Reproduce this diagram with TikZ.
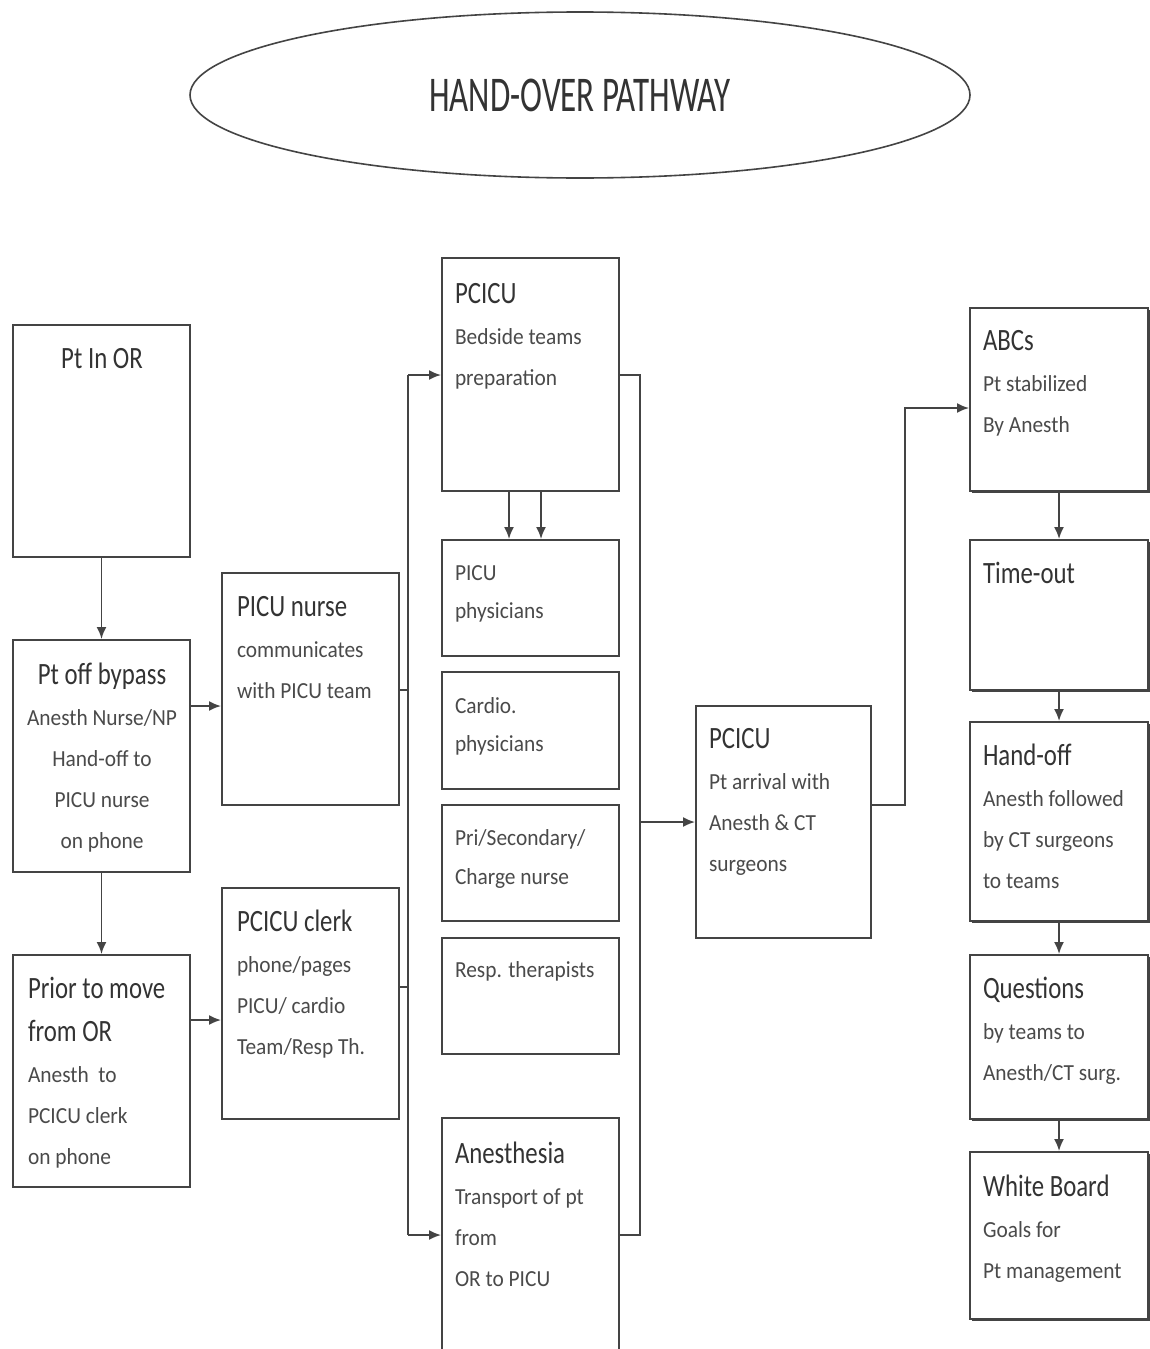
\documentclass[tikz,border=0pt]{standalone}
\usepackage{fontspec}
\setmainfont{Carlito}
\newfontfamily\bodyfont[FakeStretch=0.93]{Carlito}
\newfontfamily\headfont[FakeStretch=0.80]{Carlito}
\newfontfamily\titlefont[FakeStretch=0.66]{Carlito}
\usetikzlibrary{arrows.meta,shapes.geometric,shadows}

\definecolor{inkline}{HTML}{444444}
\definecolor{inktext}{HTML}{333333}
\definecolor{inkbody}{HTML}{4A4A4A}

% heading line inside a box
\newcommand\hd[1]{\leavevmode{\headfont\fontsize{31}{41}\selectfont\color{inktext}#1}}
% rectangle from its corners: [options]{name}{x1}{y1}{x2}{y2}
\newcommand\mkbox[6][]{%
  \node[box,#1,minimum width={(#5-#3)*1pt},minimum height={(#6-#4)*1pt}]
    (#2) at ({(#3+#5)/2},{(#4+#6)/2}) {};}

\tikzset{
  box/.style={draw=inkline,line width=2pt,fill=white,inner sep=0pt},
  shbox/.style={drop shadow={shadow xshift=2.2pt,shadow yshift=-2.2pt,fill=inkline,opacity=1}},
  txt/.style={inner sep=0pt,outer sep=0pt,text=inkbody,
    font=\bodyfont\fontsize{23}{41}\selectfont},
  conn/.style={draw=inkline,line width=1.8pt},
  arr/.style={conn,-{Latex[length=12pt,width=10pt]}},
}

\begin{document}
\begin{tikzpicture}[x=1pt,y=-1pt]
\useasboundingbox (0,0) rectangle (1150,1349);
\clip (0,0) rectangle (1150,1349);
\fill[white] (0,0) rectangle (1150,1349);

% title
\node[draw=inkline,line width=1.6pt,ellipse,minimum width=780pt,minimum height=166pt,
  inner sep=0pt,text=inktext,font=\titlefont\fontsize{50}{50}\selectfont]
  (title) at (580,95) {HAND-OVER PATHWAY};

% left column
\mkbox{orin}{13}{325}{190}{557}
\mkbox{offbp}{13}{640}{190}{872}
\mkbox{prior}{13}{955}{190}{1187}
% second column
\mkbox{nurse}{222}{573}{399}{805}
\mkbox{clerk}{222}{888}{399}{1119}
% team column
\mkbox{bed}{442}{258}{619}{491}
\mkbox{phys}{442}{540}{619}{656}
\mkbox{cardio}{442}{672}{619}{789}
\mkbox{chg}{442}{805}{619}{921}
\mkbox{resp}{442}{938}{619}{1054}
\mkbox{anes}{442}{1118}{619}{1370}
% arrival
\mkbox{arrv}{696}{706}{871}{938}
% right column
\mkbox[shbox]{abc}{970}{308}{1148}{491}
\mkbox[shbox]{tout}{970}{540}{1148}{690}
\mkbox[shbox]{hoff}{970}{722}{1148}{921}
\mkbox[shbox]{ques}{970}{955}{1148}{1119}
\mkbox[shbox]{wb}{970}{1152}{1148}{1319}

% box texts
\node[txt,anchor=base] (orin-t) at (102,368) {\hd{Pt In OR}};
\node[txt,anchor=base] (offbp-t) at (102,684)
  {\parbox[t]{170pt}{\centering\hd{Pt off bypass}\\Anesth Nurse/NP\\Hand-off to\\PICU nurse\\on phone}};
\node[txt,anchor=base west] (prior-t) at (28,998)
  {\parbox[t]{160pt}{\raggedright\hd{Prior to move}\\[2pt]\hd{from OR}\\Anesth\ \ to\\PCICU clerk\\on phone}};
\node[txt,anchor=base west] (nurse-t) at (237,616)
  {\parbox[t]{160pt}{\raggedright\hd{PICU nurse}\\communicates\\with PICU team}};
\node[txt,anchor=base west] (clerk-t) at (237,931)
  {\parbox[t]{160pt}{\raggedright\hd{PCICU clerk}\\phone/pages\\PICU/ cardio\\Team/Resp Th.}};
\node[txt,anchor=base west] (bed-t) at (455,303)
  {\parbox[t]{160pt}{\raggedright\hd{PCICU}\\Bedside teams\\preparation}};
\node[txt,anchor=base west] (phys-t) at (455,580)
  {\parbox[t]{160pt}{\raggedright PICU\\[-3pt]physicians}};
\node[txt,anchor=base west] (cardio-t) at (455,713)
  {\parbox[t]{160pt}{\raggedright Cardio.\\[-3pt]physicians}};
\node[txt,anchor=base west] (chg-t) at (455,845)
  {\parbox[t]{160pt}{\raggedright Pri/Secondary/\\[-2pt]Charge nurse}};
\node[txt,anchor=base west] (resp-t) at (455,977) {Resp. therapists};
\node[txt,anchor=base west] (anes-t) at (455,1163)
  {\parbox[t]{160pt}{\raggedright\hd{Anesthesia}\\Transport of pt\\from\\OR to PICU}};
\node[txt,anchor=base west] (arrv-t) at (709,748)
  {\parbox[t]{160pt}{\raggedright\hd{PCICU}\\Pt arrival with\\Anesth \& CT\\surgeons}};
\node[txt,anchor=base west] (abc-t) at (983,350)
  {\parbox[t]{160pt}{\raggedright\hd{ABCs}\\Pt stabilized\\By Anesth}};
\node[txt,anchor=base west] (tout-t) at (983,583) {\hd{Time-out}};
\node[txt,anchor=base west] (hoff-t) at (983,765)
  {\parbox[t]{160pt}{\raggedright\hd{Hand-off}\\Anesth followed\\by CT surgeons\\to teams}};
\node[txt,anchor=base west] (ques-t) at (983,998)
  {\parbox[t]{160pt}{\raggedright\hd{Questions}\\by teams to\\Anesth/CT surg.}};
\node[txt,anchor=base west] (wb-t) at (983,1196)
  {\parbox[t]{160pt}{\raggedright\hd{White Board}\\Goals for\\Pt management}};

% left column flow
\draw[arr] (orin) -- (offbp);
\draw[arr] (offbp) -- (prior);
\draw[arr] (offbp.east |- 0,706) -- (nurse.west |- 0,706);
\draw[arr] (prior.east |- 0,1020) -- (clerk.west |- 0,1020);

% collecting line into the team column
\coordinate (bl-top) at (408,375);
\coordinate (bl-bot) at (408,1235);
\draw[conn] (bl-top) -- (bl-bot);
\draw[conn] (nurse.east |- 0,690) -- (bl-top |- 0,690);
\draw[conn] (clerk.east |- 0,987) -- (bl-top |- 0,987);
\draw[arr] (bl-top) -- (bed.west |- bl-top);
\draw[arr] (bl-bot) -- (anes.west |- bl-bot);

% bedside preparation to the teams
\draw[arr] (bed.south -| 509,0) -- (phys.north -| 509,0);
\draw[arr] (bed.south -| 541,0) -- (phys.north -| 541,0);

% team column to arrival
\coordinate (br-top) at (640,375);
\coordinate (br-bot) at (640,1235);
\draw[conn] (bed.east |- br-top) -- (br-top) -- (br-bot) -- (anes.east |- br-bot);
\draw[arr] (br-top |- 0,822) -- (arrv.west |- 0,822);

% arrival to ABCs
\coordinate (bend) at (905,408);
\draw[arr] (arrv.east |- 0,805) -- (bend |- 0,805) -- (bend) -- (abc.west |- bend);

% right column flow
\draw[arr] (abc) -- (tout);
\draw[arr] (tout) -- (hoff);
\draw[arr] (hoff) -- (ques);
\draw[arr] (ques) -- (wb);
\end{tikzpicture}
\end{document}
